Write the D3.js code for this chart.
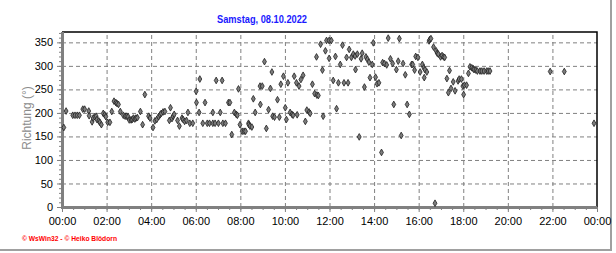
<!DOCTYPE html>
<html>
<head>
<meta charset="utf-8">
<script src="https://cdn.jsdelivr.net/npm/d3@7"></script>
<style>
  body { margin: 0; background: #fff; }
  svg { display: block; }
  .tick text { font-family: "Liberation Sans", Arial, sans-serif; font-size: 11px; fill: #000; }
</style>
</head>
<body>
<div id="chart"></div>
<script>
// Wind direction, Samstag 08.10.2022 (minutes since midnight / degrees)
var times = [5, 11, 29, 35, 41, 47, 56, 61, 72, 73, 81, 84, 88, 92, 94, 99, 102, 106, 111, 115,
  118, 123, 129, 134, 140, 145, 148, 152, 157, 165, 170, 174, 178, 181, 186, 189, 192, 196, 199, 203,
  211, 217, 223, 233, 237, 245, 250, 255, 260, 264, 267, 272, 277, 289, 292, 296, 299, 302, 311, 316,
  323, 326, 330, 335, 339, 344, 352, 361, 362, 369, 371, 379, 385, 391, 397, 406, 406, 412, 415, 421,
  426, 431, 433, 440, 448, 452, 457, 464, 469, 472, 475, 479, 485, 490, 494, 502, 503, 506, 511, 515,
  520, 533, 534, 539, 545, 550, 556, 561, 565, 567, 572, 580, 585, 589, 596, 601, 604, 608, 614, 619,
  622, 625, 631, 633, 638, 643, 649, 655, 659, 665, 668, 674, 680, 685, 686, 690, 696, 701, 703, 709,
  712, 719, 719, 725, 730, 736, 739, 744, 749, 755, 759, 766, 770, 773, 779, 784, 789, 790, 795, 800,
  805, 808, 814, 818, 822, 826, 829, 835, 838, 844, 848, 853, 860, 863, 868, 874, 878, 884, 890, 893,
  900, 905, 908, 913, 918, 924, 929, 935, 941, 944, 949, 952, 958, 964, 970, 974, 975, 977, 982, 988,
  990, 993, 1000, 1004, 1007, 1010, 1013, 1019, 1023, 1027, 1030, 1036, 1040, 1043, 1047, 1053, 1058, 1066, 1069, 1075,
  1079, 1081, 1083, 1089, 1094, 1098, 1103, 1107, 1109, 1114, 1118, 1125, 1130, 1136, 1143, 1147, 1152, 1314, 1352, 1432]
var directions = [169, 204, 195, 195, 195, 195, 208, 208, 204, 194, 181, 189, 192, 193, 186, 183, 180, 175, 199, 196,
  192, 180, 180, 203, 225, 222, 220, 218, 203, 195, 193, 193, 192, 185, 185, 186, 189, 187, 189, 190,
  203, 175, 239, 193, 189, 169, 183, 186, 192, 196, 199, 202, 203, 184, 211, 188, 193, 197, 184, 172,
  189, 186, 182, 184, 201, 178, 178, 246, 222, 201, 272, 178, 222, 178, 178, 201, 178, 178, 269, 178,
  201, 269, 178, 178, 222, 222, 154, 201, 197, 195, 251, 175, 161, 161, 161, 178, 175, 172, 170, 230,
  201, 257, 218, 257, 309, 167, 207, 252, 287, 193, 191, 228, 191, 261, 278, 211, 186, 264, 201, 197,
  195, 278, 264, 196, 257, 271, 280, 182, 206, 202, 199, 261, 241, 319, 238, 237, 346, 291, 193, 332,
  354, 354, 316, 354, 269, 320, 209, 264, 303, 344, 264, 318, 264, 335, 318, 325, 321, 292, 325, 149,
  315, 327, 255, 319, 314, 308, 275, 303, 349, 276, 262, 264, 116, 307, 305, 302, 359, 315, 305, 218,
  292, 310, 358, 152, 305, 281, 218, 197, 303, 303, 291, 320, 318, 287, 303, 296, 275, 292, 287, 353,
  356, 358, 340, 8, 332, 327, 325, 319, 322, 319, 318, 273, 243, 290, 252, 266, 247, 268, 272, 272,
  257, 239, 259, 259, 284, 298, 296, 294, 292, 291, 289, 289, 289, 289, 289, 289, 289, 288, 288, 178]

var xTicks = [0, 120, 240, 360, 480, 600, 720, 840, 960, 1080, 1200, 1320, 1440]
var yTicks = [0, 50, 100, 150, 200, 250, 300, 350]
var title = "Samstag, 08.10.2022"
var yTitle = "Richtung (°)"
var credits = "© WsWin32 - © Heiko Blödorn"

var width = 616
var height = 253
var marginLeft = 62
var marginRight = 597
var plotTop = 32
var plotBottom = 207

var svg = d3.select("#chart")
  .append("svg")
  .attr("width", width)
  .attr("height", height)

var xScale = d3.scaleLinear()
  .domain([0, 1440])
  .range([marginLeft, marginRight])

var yScale = d3.scaleLinear()
  .domain([0, 372])
  .range([plotBottom, plotTop])

// outer frame
svg.append("path")
  .attr("d", `M611,0 V250 H0`)
  .attr("fill", "none")
  .style("stroke", "#a0a0a0")
  .style("stroke-width", 2)

// Title
svg.append("text")
  .attr("x", 217)
  .attr("y", 23)
  .attr("textLength", 90)
  .attr("lengthAdjust", "spacingAndGlyphs")
  .style("font-family", "'Liberation Sans', Arial, sans-serif")
  .style("font-weight", "bold")
  .style("font-size", "11.5px")
  .style("fill", "#1a1aff")
  .text(title)

// Y grid
svg.append("g")
  .attr("transform", `translate(${marginLeft},0)`)
  .attr("class", "grid")
  .call(d3.axisLeft(yScale)
    .tickValues(yTicks.slice(1))
    .tickSize(-(marginRight - marginLeft))
    .tickFormat(""))
  .call(g => g.select(".domain").remove())
  .selectAll("line")
  .style("stroke", "#808080")
  .style("stroke-dasharray", "4,3")

// X grid
svg.append("g")
  .attr("transform", `translate(0,${plotBottom})`)
  .attr("class", "grid")
  .call(d3.axisBottom(xScale)
    .tickValues(xTicks.slice(1, -1))
    .tickSize(-(plotBottom - plotTop))
    .tickFormat(""))
  .call(g => g.select(".domain").remove())
  .selectAll("line")
  .style("stroke", "#808080")
  .style("stroke-dasharray", "4,3")

// top / right frame
svg.append("path")
  .attr("d", `M${marginLeft},${plotTop} H${marginRight} V${plotBottom}`)
  .attr("fill", "none")
  .style("stroke", "#000")
  .style("stroke-width", 1.5)

// Minor ticks
svg.append("g")
  .attr("transform", `translate(${marginLeft},0)`)
  .call(d3.axisLeft(yScale).tickValues(d3.range(0, 371, 10)).tickSize(3).tickFormat(""))
  .call(g => g.select(".domain").remove())
  .selectAll("line").style("stroke", "#808080")

svg.append("g")
  .attr("transform", `translate(0,${plotBottom})`)
  .call(d3.axisBottom(xScale).tickValues(d3.range(0, 1441, 30)).tickSize(3).tickFormat(""))
  .call(g => g.select(".domain").remove())
  .selectAll("line").style("stroke", "#808080")

// Y axis
svg.append("g")
  .attr("transform", `translate(${marginLeft},0)`)
  .attr("class", "y-axis")
  .call(d3.axisLeft(yScale).tickValues(yTicks).tickSize(5).tickPadding(4).tickFormat(d => d))
  .call(g => g.select(".domain").attr("d", `M0.5,${plotBottom + 1.5}V${plotTop}`).style("stroke", "#808080").style("stroke-width", 3))
  .selectAll(".tick line").style("stroke", "#808080")

// X axis
svg.append("g")
  .attr("transform", `translate(0,${plotBottom})`)
  .attr("class", "x-axis")
  .call(d3.axisBottom(xScale).tickValues(xTicks).tickSize(5).tickPadding(5)
    .tickFormat(d => d3.format("02")((d / 60) % 24) + ":00"))
  .call(g => g.select(".domain").attr("d", `M${marginLeft - 1},0.5H${marginRight}`).style("stroke", "#808080").style("stroke-width", 3))
  .selectAll(".tick line").style("stroke", "#808080")

svg.append("text")
  .attr("class", "y-label")
  .attr("text-anchor", "middle")
  .attr("transform", `translate(31,${118}) rotate(-90)`)
  .style("font-family", "'Liberation Sans', Arial, sans-serif")
  .style("font-size", "12px")
  .style("fill", "#8c8c8c")
  .text(yTitle)

// points
var diamond = d3.symbol().type(d3.symbolDiamond).size(13)
svg.append("g")
  .attr("class", "dots")
  .selectAll("path")
  .data(times.map((t, i) => ({ t: t, v: directions[i] })))
  .enter()
  .append("path")
  .attr("d", diamond)
  .attr("transform", d => `translate(${xScale(d.t)},${yScale(d.v)})`)
  .style("fill", "#7c7c7c")
  .style("stroke", "#202020")
  .style("stroke-width", 0.8)

// credits
svg.append("text")
  .attr("x", 22)
  .attr("y", 241)
  .attr("textLength", 95)
  .attr("lengthAdjust", "spacingAndGlyphs")
  .style("font-family", "'Liberation Sans', sans-serif")
  .style("font-weight", "bold")
  .style("font-size", "7px")
  .style("fill", "#ff0000")
  .text(credits)
</script>
</body>
</html>
